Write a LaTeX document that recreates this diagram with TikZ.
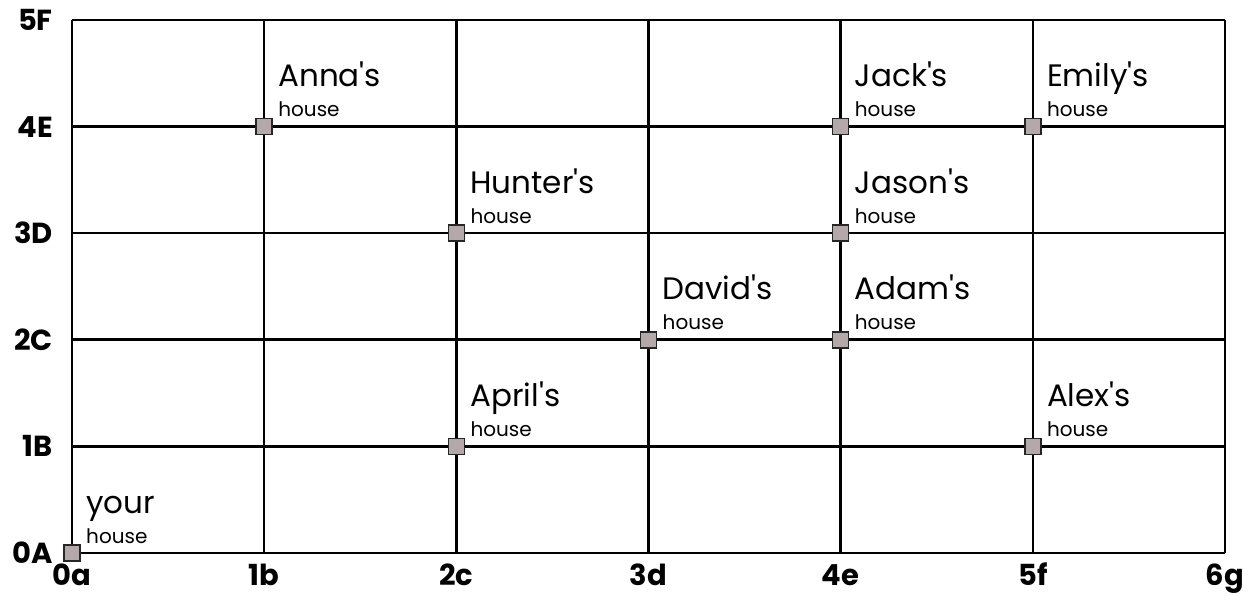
\documentclass[tikz,border=0pt]{standalone}
\usepackage{fontspec}
\setmainfont{Poppins}[Ligatures=TeXOff]
\definecolor{housefill}{HTML}{B4A8A8}
\begin{document}
\begin{tikzpicture}[x=1pt,y=1pt,
  gridline/.style={line width=2.6pt, black},
  housebox/.style={rectangle, draw=black!85, line width=1.6pt, fill=housefill, minimum size=16pt, inner sep=0pt},
  namelbl/.style={anchor=base west, inner sep=0pt, font=\fontsize{31}{31}\selectfont},
  houselbl/.style={anchor=base west, inner sep=0pt, font=\fontsize{20}{20}\selectfont},
  collbl/.style={anchor=base, inner sep=0pt, font=\bfseries\fontsize{29}{29}\selectfont},
  rowlbl/.style={anchor=east, inner sep=0pt, font=\bfseries\fontsize{29}{29}\selectfont}]
\useasboundingbox (0,0) rectangle (1251,595);
\def\cx#1{72+192.17*#1}
\def\ry#1{42+106.6*#1}
% grid lines
\foreach \i in {0,...,6} {
  \coordinate (cb\i) at ({\cx{\i}},{\ry{0}});
  \coordinate (ct\i) at ({\cx{\i}},{\ry{5}});
  \draw[gridline] (cb\i) -- (ct\i);
}
\foreach \j in {0,...,5} {
  \coordinate (rl\j) at ({\cx{0}},{\ry{\j}});
  \coordinate (rr\j) at ({\cx{6}},{\ry{\j}});
  \draw[gridline] (rl\j) -- (rr\j);
}
% axis labels
\foreach \i/\t in {0/0a,1/1b,2/2c,3/3d,4/4e,5/5f,6/6g}
  \node[collbl] (col\i) at ({\cx{\i}},10) {\t};
\foreach \j/\t in {0/0A,1/1B,2/2C,3/3D,4/4E,5/5F}
  \node[rowlbl] (row\j) at (53,{\ry{\j}}) {\t};
% houses
\foreach \n/\i/\j/\t in {your/0/0/your, anna/1/4/Anna's, hunter/2/3/Hunter's, april/2/1/April's,
  david/3/2/David's, jack/4/4/Jack's, jason/4/3/Jason's, adam/4/2/Adam's, emily/5/4/Emily's, alex/5/1/Alex's} {
  \node[housebox] (h-\n) at ({\cx{\i}},{\ry{\j}}) {};
  \node[namelbl] (n-\n) at ({\cx{\i}+14},{\ry{\j}+40}) {\t};
  \node[houselbl] (l-\n) at ({\cx{\i}+14},{\ry{\j}+10}) {house};
}
\end{tikzpicture}
\end{document}
